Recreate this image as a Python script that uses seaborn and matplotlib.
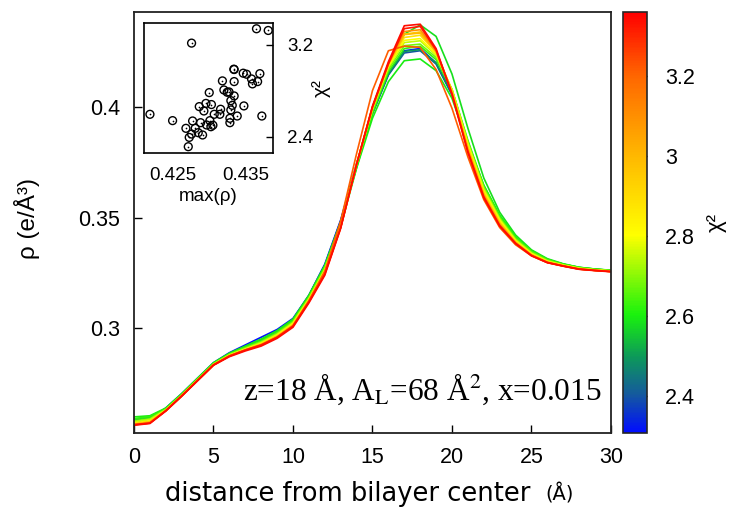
import matplotlib
matplotlib.use("Agg")
import numpy as np
import pandas as pd
import matplotlib.pyplot as plt
import seaborn as sns
from matplotlib.colors import LinearSegmentedColormap, Normalize
from matplotlib.cm import ScalarMappable

# distance from bilayer center (A)
z = list(range(31))

# chi^2 of each profile
chi2 = [2.31, 2.40, 2.50, 2.58, 2.595, 2.62, 2.68, 2.75,
        2.80, 2.88, 2.95, 3.00, 3.10, 3.215, 3.32, 3.34]

# electron density profiles, one per chi^2 value
rho_c01 = [0.2575, 0.2590, 0.2640, 0.2705, 0.2775, 0.2845, 0.2890, 0.2925, 0.2960, 0.2995, 0.3045,
           0.3150, 0.3290, 0.3490, 0.3745, 0.3975, 0.4150, 0.4255, 0.4265, 0.4200, 0.4060,
           0.3830, 0.3630, 0.3495, 0.3400, 0.3340, 0.3305, 0.3285, 0.3272, 0.3265, 0.3260]
rho_c02 = [0.2580, 0.2592, 0.2638, 0.2702, 0.2772, 0.2842, 0.2886, 0.2918, 0.2950, 0.2988, 0.3040,
           0.3148, 0.3285, 0.3485, 0.3740, 0.3970, 0.4145, 0.4245, 0.4255, 0.4195, 0.4055,
           0.3830, 0.3632, 0.3498, 0.3405, 0.3345, 0.3308, 0.3287, 0.3274, 0.3266, 0.3261]
rho_c03 = [0.2585, 0.2595, 0.2635, 0.2700, 0.2770, 0.2840, 0.2884, 0.2915, 0.2946, 0.2984, 0.3036,
           0.3145, 0.3282, 0.3482, 0.3738, 0.3972, 0.4150, 0.4252, 0.4260, 0.4200, 0.4065,
           0.3840, 0.3640, 0.3505, 0.3410, 0.3348, 0.3310, 0.3290, 0.3275, 0.3268, 0.3262]
rho_c04 = [0.2590, 0.2600, 0.2632, 0.2698, 0.2768, 0.2838, 0.2880, 0.2910, 0.2940, 0.2978, 0.3030,
           0.3138, 0.3270, 0.3460, 0.3725, 0.3975, 0.4175, 0.4330, 0.4372, 0.4320, 0.4150,
           0.3905, 0.3680, 0.3525, 0.3422, 0.3355, 0.3315, 0.3292, 0.3276, 0.3268, 0.3263]
rho_c05 = [0.2600, 0.2605, 0.2640, 0.2705, 0.2775, 0.2845, 0.2888, 0.2920, 0.2952, 0.2990, 0.3042,
           0.3150, 0.3285, 0.3480, 0.3725, 0.3950, 0.4115, 0.4210, 0.4218, 0.4165, 0.4040,
           0.3835, 0.3648, 0.3512, 0.3415, 0.3350, 0.3312, 0.3290, 0.3276, 0.3268, 0.3262]
rho_c06 = [0.2592, 0.2602, 0.2636, 0.2700, 0.2770, 0.2840, 0.2884, 0.2914, 0.2944, 0.2982, 0.3034,
           0.3142, 0.3278, 0.3475, 0.3735, 0.3975, 0.4160, 0.4265, 0.4275, 0.4215, 0.4080,
           0.3850, 0.3645, 0.3508, 0.3412, 0.3350, 0.3312, 0.3290, 0.3275, 0.3267, 0.3262]
rho_c07 = [0.2582, 0.2592, 0.2634, 0.2700, 0.2770, 0.2840, 0.2882, 0.2912, 0.2940, 0.2978, 0.3030,
           0.3138, 0.3272, 0.3470, 0.3738, 0.3985, 0.4170, 0.4278, 0.4285, 0.4225, 0.4080,
           0.3845, 0.3638, 0.3500, 0.3405, 0.3345, 0.3308, 0.3288, 0.3274, 0.3266, 0.3261]
rho_c08 = [0.2578, 0.2588, 0.2632, 0.2698, 0.2768, 0.2838, 0.2880, 0.2908, 0.2936, 0.2973, 0.3025,
           0.3134, 0.3266, 0.3468, 0.3742, 0.3990, 0.4180, 0.4292, 0.4300, 0.4235, 0.4080,
           0.3838, 0.3630, 0.3494, 0.3400, 0.3340, 0.3305, 0.3286, 0.3272, 0.3265, 0.3260]
rho_c09 = [0.2572, 0.2582, 0.2630, 0.2696, 0.2766, 0.2836, 0.2878, 0.2906, 0.2932, 0.2970, 0.3022,
           0.3130, 0.3262, 0.3465, 0.3742, 0.3995, 0.4185, 0.4302, 0.4310, 0.4240, 0.4078,
           0.3830, 0.3622, 0.3488, 0.3396, 0.3338, 0.3303, 0.3285, 0.3271, 0.3264, 0.3259]
rho_c10 = [0.2570, 0.2580, 0.2628, 0.2695, 0.2765, 0.2835, 0.2877, 0.2904, 0.2930, 0.2967, 0.3018,
           0.3127, 0.3258, 0.3462, 0.3742, 0.3998, 0.4192, 0.4315, 0.4325, 0.4248, 0.4075,
           0.3822, 0.3615, 0.3482, 0.3392, 0.3335, 0.3301, 0.3284, 0.3270, 0.3263, 0.3258]
rho_c11 = [0.2568, 0.2578, 0.2628, 0.2695, 0.2765, 0.2835, 0.2876, 0.2903, 0.2928, 0.2964, 0.3015,
           0.3125, 0.3255, 0.3460, 0.3742, 0.4000, 0.4198, 0.4330, 0.4340, 0.4255, 0.4072,
           0.3815, 0.3608, 0.3477, 0.3390, 0.3333, 0.3300, 0.3283, 0.3269, 0.3263, 0.3258]
rho_c12 = [0.2566, 0.2576, 0.2628, 0.2695, 0.2765, 0.2835, 0.2876, 0.2903, 0.2927, 0.2963, 0.3013,
           0.3123, 0.3252, 0.3458, 0.3742, 0.4000, 0.4195, 0.4328, 0.4335, 0.4250, 0.4068,
           0.3810, 0.3604, 0.3474, 0.3388, 0.3332, 0.3299, 0.3283, 0.3269, 0.3262, 0.3257]
rho_c13 = [0.2565, 0.2574, 0.2628, 0.2695, 0.2765, 0.2835, 0.2875, 0.2902, 0.2926, 0.2961, 0.3011,
           0.3121, 0.3248, 0.3456, 0.3741, 0.4000, 0.4197, 0.4342, 0.4350, 0.4255, 0.4064,
           0.3805, 0.3600, 0.3470, 0.3386, 0.3331, 0.3298, 0.3282, 0.3268, 0.3262, 0.3257]
rho_c14 = [0.2564, 0.2572, 0.2628, 0.2695, 0.2765, 0.2835, 0.2875, 0.2902, 0.2925, 0.2960, 0.3012,
           0.3125, 0.3258, 0.3485, 0.3790, 0.4075, 0.4255, 0.4276, 0.4270, 0.4170, 0.3995,
           0.3775, 0.3582, 0.3456, 0.3378, 0.3328, 0.3297, 0.3282, 0.3268, 0.3262, 0.3257]
rho_c15 = [0.2565, 0.2572, 0.2628, 0.2695, 0.2765, 0.2835, 0.2875, 0.2902, 0.2925, 0.2960, 0.3010,
           0.3120, 0.3245, 0.3455, 0.3740, 0.4000, 0.4195, 0.4355, 0.4365, 0.4258, 0.4060,
           0.3800, 0.3595, 0.3465, 0.3385, 0.3330, 0.3298, 0.3282, 0.3268, 0.3262, 0.3257]
rho_c16 = [0.2562, 0.2570, 0.2626, 0.2693, 0.2763, 0.2833, 0.2872, 0.2898, 0.2920, 0.2955, 0.3005,
           0.3115, 0.3240, 0.3452, 0.3742, 0.4005, 0.4205, 0.4368, 0.4375, 0.4265, 0.4058,
           0.3795, 0.3590, 0.3462, 0.3383, 0.3328, 0.3297, 0.3281, 0.3267, 0.3261, 0.3256]

profiles = [rho_c01, rho_c02, rho_c03, rho_c04, rho_c05, rho_c06, rho_c07, rho_c08,
            rho_c09, rho_c10, rho_c11, rho_c12, rho_c13, rho_c14, rho_c15, rho_c16]

# inset: peak density vs chi^2 for every run
inset_max_rho = [0.43645, 0.43805, 0.42759, 0.43691, 0.43336, 0.43464, 0.43510, 0.43577,
                 0.43660, 0.43590, 0.43340, 0.43180, 0.43200, 0.43245, 0.43270, 0.43000,
                 0.43340, 0.43295, 0.42955, 0.43030, 0.42864, 0.42927, 0.43068, 0.43155,
                 0.43145, 0.43314, 0.43295, 0.43382, 0.43473, 0.43282, 0.43282, 0.43718,
                 0.42191, 0.42500, 0.42773, 0.42882, 0.43009, 0.42964, 0.43023, 0.42682,
                 0.42809, 0.42850, 0.42909, 0.42759, 0.42727, 0.42714, 0.43050, 0.43340]
inset_chi2 = [3.340, 3.325, 3.215, 2.949, 2.988, 2.953, 2.944, 2.903,
              2.880, 2.860, 2.880, 2.886, 2.807, 2.787, 2.790, 2.784,
              2.755, 2.714, 2.690, 2.680, 2.662, 2.624, 2.595, 2.639,
              2.595, 2.673, 2.633, 2.580, 2.668, 2.560, 2.522, 2.580,
              2.595, 2.540, 2.537, 2.522, 2.540, 2.502, 2.487, 2.473,
              2.473, 2.435, 2.415, 2.423, 2.394, 2.313, 2.500, 2.985]

rows = []
for run, (c, prof) in enumerate(zip(chi2, profiles)):
    for zi, r in zip(z, prof):
        rows.append({"z": zi, "rho": r, "chi2": c, "run": run})
df = pd.DataFrame(rows)
inset_df = pd.DataFrame({"max_rho": inset_max_rho, "chi2": inset_chi2})

sns.set_style("white")
plt.rcParams["font.family"] = ["Liberation Sans", "DejaVu Sans"]
plt.rcParams["mathtext.fontset"] = "stix"
for key in ["text.color", "axes.labelcolor", "xtick.color", "ytick.color"]:
    plt.rcParams[key] = "black"

cmap = LinearSegmentedColormap.from_list("chi", [
    (0.0, (0.0, 0.05, 1.0)),
    (0.09, (0.08, 0.35, 0.62)),
    (0.18, (0.05, 0.60, 0.35)),
    (0.28, (0.10, 0.95, 0.05)),
    (0.47, (1.0, 1.0, 0.0)),
    (0.66, (1.0, 0.72, 0.0)),
    (0.85, (1.0, 0.40, 0.0)),
    (1.0, (1.0, 0.0, 0.0))])
norm = Normalize(vmin=2.307, vmax=3.36)

fig = plt.figure(figsize=(7.37, 5.08), dpi=100)
ax = fig.add_axes([0.1818, 0.1476, 0.6472, 0.8287])
sns.lineplot(data=df, x="z", y="rho", hue="chi2", units="run", estimator=None,
             palette=cmap, hue_norm=norm, linewidth=1.2, legend=False, ax=ax)

ax.set_xlim(0, 30)
ax.set_ylim(0.2527, 0.443)
ax.set_xticks([0, 5, 10, 15, 20, 25, 30])
ax.set_xticklabels(["0", "5", "10", "15", "20", "25", "30"])
ax.set_yticks([0.3, 0.35, 0.4])
ax.set_yticklabels(["0.3", "0.35", "0.4"])
ax.tick_params(direction="in", length=6, width=1, labelsize=15.5, pad=10,
               bottom=True, left=True, top=False, right=False)
for s in ax.spines.values():
    s.set_linewidth(1.3)
    s.set_color("#222222")
ax.set_xlabel("")
ax.set_ylabel("ρ (e/Å³)", fontsize=17.5)
ax.yaxis.set_label_coords(-0.197, 0.51)
fig.text(0.224, 0.014, "distance from bilayer center", family="DejaVu Sans",
         fontsize=18.5, ha="left", va="baseline")
fig.text(0.740, 0.014, "(Å)", family="DejaVu Sans", fontsize=14,
         ha="left", va="baseline")

ax.text(6.85, 0.2676, r"z=18 Å, A$_\mathrm{L}$=68 Å$^2$, x=0.015",
        family="Liberation Serif", fontsize=22.5, ha="left", va="baseline")

# colour bar
cax = fig.add_axes([0.8453, 0.1476, 0.0326, 0.8287])
cb = fig.colorbar(ScalarMappable(norm=norm, cmap=cmap), cax=cax)
cb.set_ticks([2.4, 2.6, 2.8, 3.0, 3.2])
cb.set_ticklabels(["2.4", "2.6", "2.8", "3", "3.2"])
cax.tick_params(direction="in", length=5, width=1, labelsize=15.5, pad=13,
                left=True, right=True)
cb.outline.set_linewidth(1.2)
cb.set_label("χ²", fontsize=16, labelpad=8)

# inset
ax_in = fig.add_axes([0.1954, 0.6988, 0.175, 0.2559])
sns.scatterplot(data=inset_df, x="max_rho", y="chi2", ax=ax_in, marker="o",
                s=32, facecolor="none", edgecolor="black", linewidth=1.0)
sns.scatterplot(data=inset_df, x="max_rho", y="chi2", ax=ax_in, marker="o",
                s=1.5, color="black", linewidth=0)
ax_in.set_xlim(0.4211, 0.4387)
ax_in.set_ylim(2.258, 3.39)
ax_in.set_xticks([0.425, 0.435])
ax_in.set_xticklabels(["0.425", "0.435"])
ax_in.set_yticks([2.4, 3.2])
ax_in.set_yticklabels(["2.4", "3.2"])
ax_in.yaxis.tick_right()
ax_in.yaxis.set_label_position("right")
ax_in.tick_params(direction="in", length=5, width=1, labelsize=13.5, pad=10,
                  left=False, top=False)
for s in ax_in.spines.values():
    s.set_linewidth(1.2)
    s.set_color("black")
ax_in.set_xlabel("max(ρ)", fontsize=13.5, labelpad=3)
ax_in.set_ylabel("χ²", fontsize=15)
ax_in.yaxis.set_label_coords(1.30, 0.5)

fig.savefig("out.png", dpi=100)
